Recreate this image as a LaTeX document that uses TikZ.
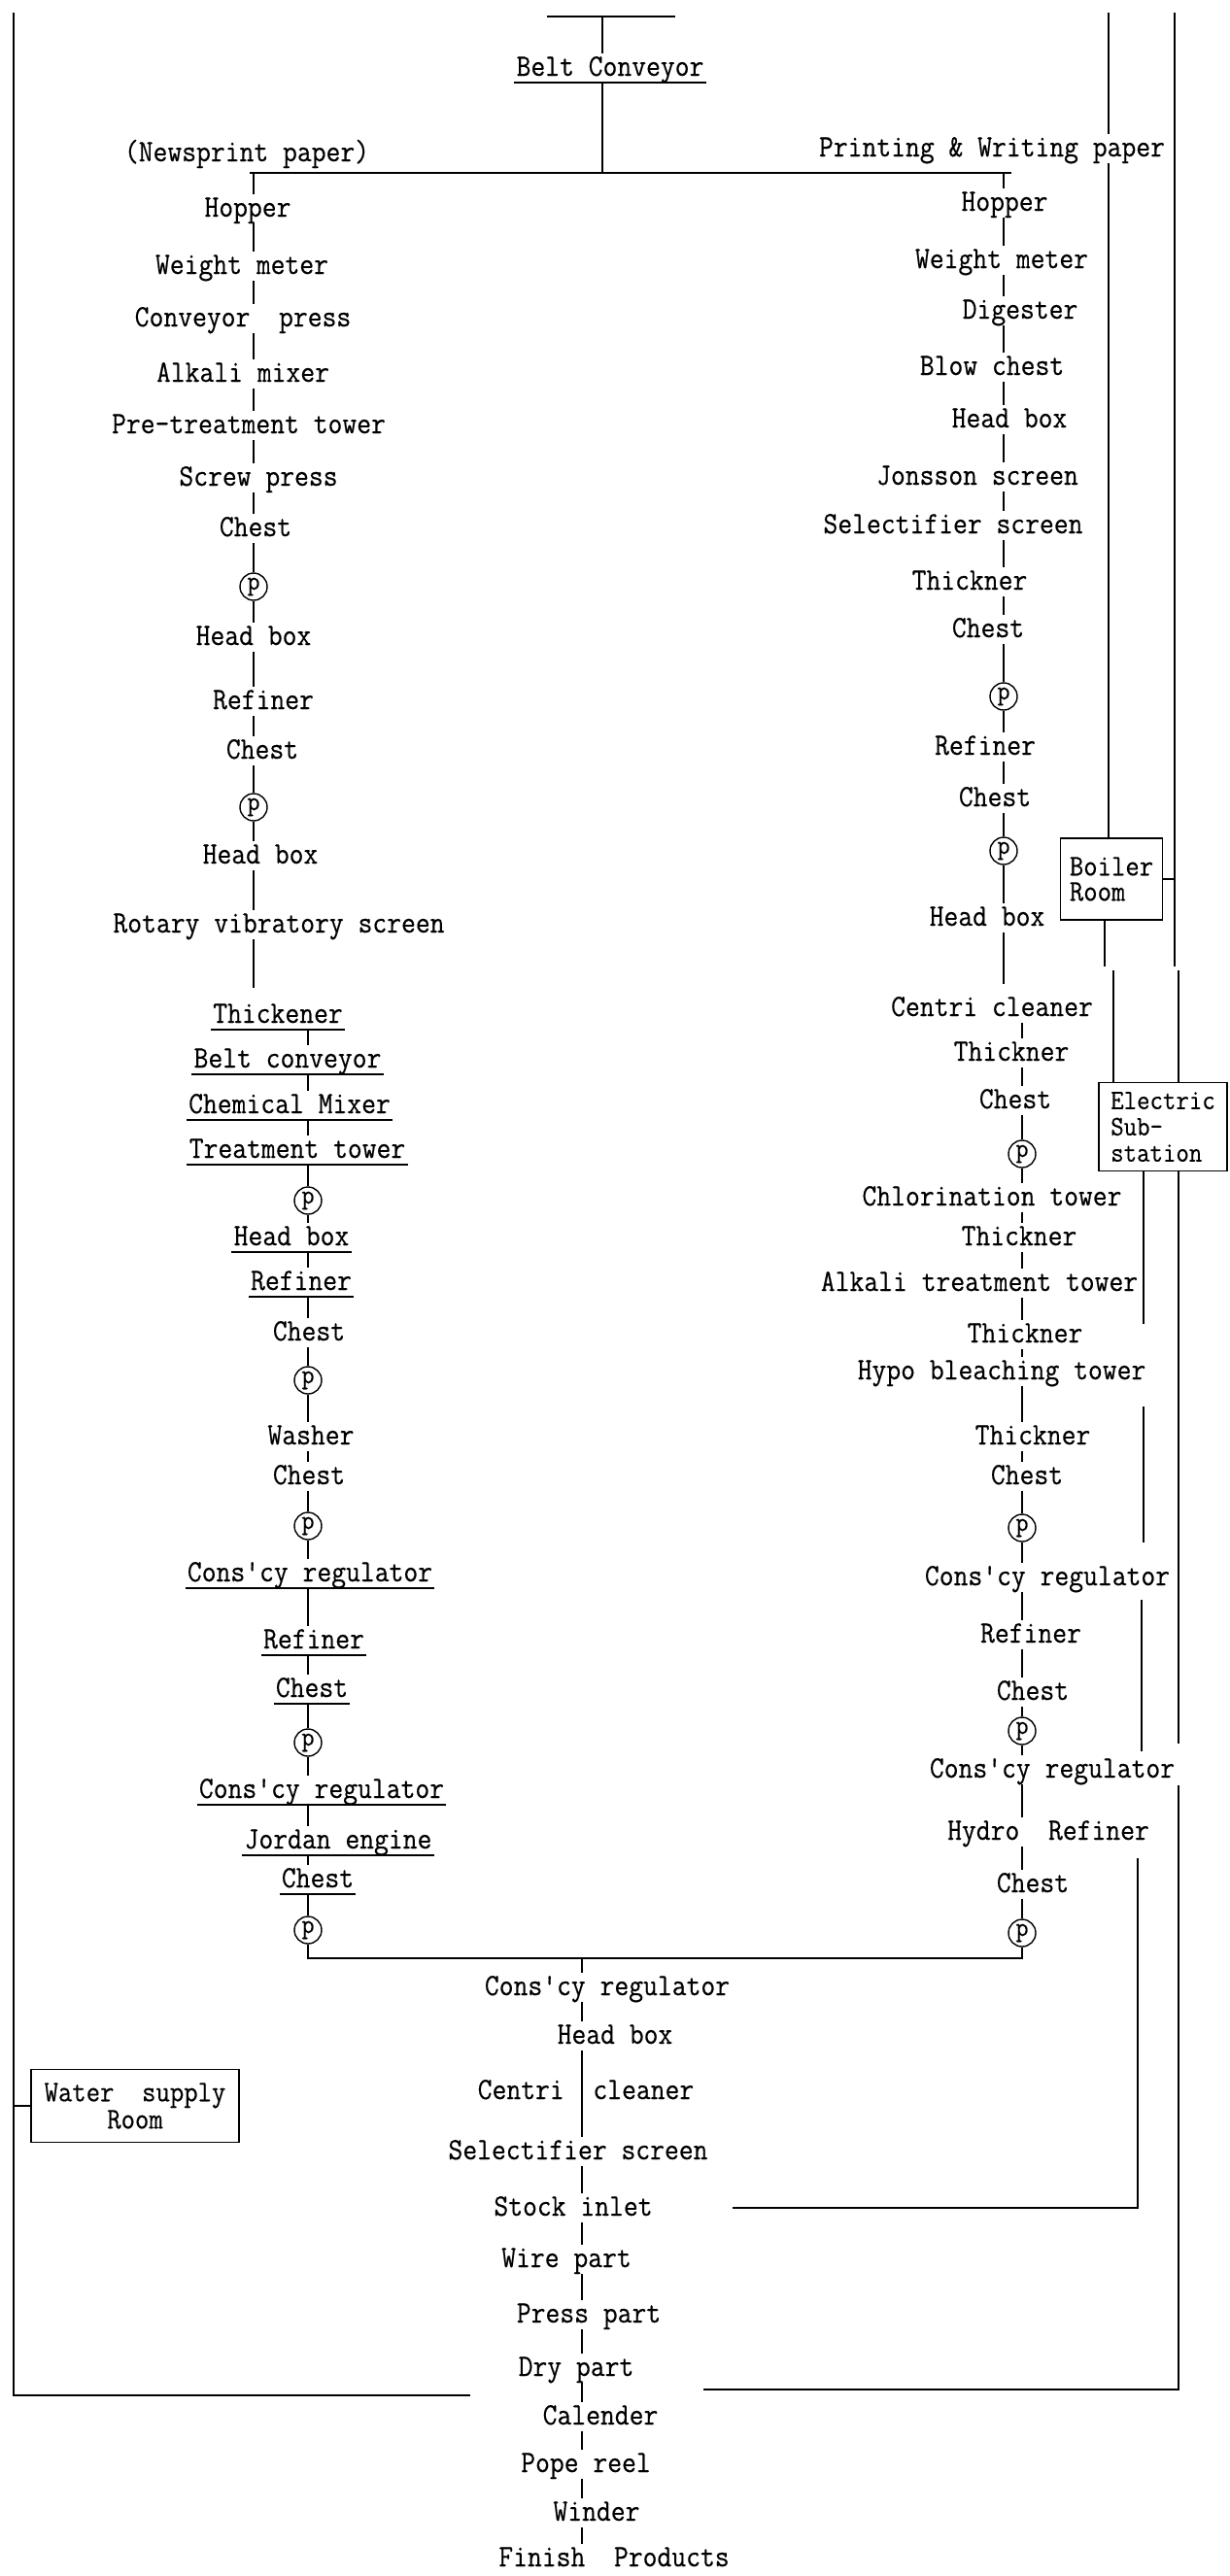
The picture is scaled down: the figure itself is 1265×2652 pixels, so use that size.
\documentclass[tikz,border=0pt]{standalone}
\usepackage{fontspec}
\newfontfamily\tw{Latin Modern Mono}[FakeStretch=0.9, FakeBold=0.4]
\begin{document}
\begin{tikzpicture}[x=0.5pt,y=-0.5pt,
  lbl/.style={font=\tw\fontsize{16}{18}\selectfont, inner xsep=1pt, inner ysep=0.3pt, text height=11pt, text depth=3pt},
  pump/.style={circle, draw, line width=0.7pt, inner sep=0pt, minimum size=14pt, font=\tw\fontsize{14}{14}\selectfont},
  conn/.style={line width=0.75pt},
  bar/.style={line width=1.1pt},
  uline/.style={line width=1pt},
  room/.style={draw, line width=0.8pt, font=\tw\fontsize{15.5}{13}\selectfont, inner sep=2pt},
  svc/.style={line width=0.8pt}
]
\useasboundingbox (0,0) rectangle (1265,2652);

% ---------- top ----------
\coordinate (tbL) at (563,17); \coordinate (tbR) at (695,17); \coordinate (tbM) at (620,17);
\node[lbl] (bc) at (628,70) {Belt Conveyor};
\coordinate (spL) at (257,178); \coordinate (spR) at (1041,178); \coordinate (spM) at (620,178);
\coordinate (L1) at (261,178); \coordinate (R1) at (1033,178);
\coordinate (L2) at (317,0); \coordinate (R2) at (1052,0); \coordinate (C) at (599,0);
\draw[bar] (tbL) -- (tbR);
\draw[conn] (tbM) -- (bc.north -| tbM);
\draw[conn] (bc.south -| tbM) -- (spM);
\draw[bar] (spL) -- (spR);
\node[lbl] (news) at (254,158) {(Newsprint paper)};
\node[lbl] (pw) at (1021,153) {Printing \& Writing paper};

% ---------- left column, upper ----------
\node[lbl] (n1) at (255,215) {Hopper};
\node[lbl] (n2) at (249,274) {Weight meter};
\node[lbl] (n3) at (250,328) {Conveyor\ \ press};
\node[lbl] (n4) at (250,385) {Alkali mixer};
\node[lbl] (n5) at (256,438) {Pre-treatment tower};
\node[lbl] (n6) at (266,492) {Screw press};
\node[lbl] (n7) at (263,544) {Chest};
\node[pump] (n8) at (261,604) {p};
\node[lbl] (n9) at (261,656) {Head box};
\node[lbl] (n10) at (271,722) {Refiner};
\node[lbl] (n11) at (270,773) {Chest};
\node[pump] (n12) at (261,831) {p};
\node[lbl] (n13) at (268,881) {Head box};
\node[lbl] (n14) at (287,952) {Rotary vibratory screen};
\coordinate (L1t) at (261,1017);
\draw[conn] (L1) -- (n1.north -| L1);
\foreach \a/\b in {n1/n2,n2/n3,n3/n4,n4/n5,n5/n6,n6/n7,n7/n8,n8/n9,n9/n10,n10/n11,n11/n12,n12/n13,n13/n14}
  \draw[conn] (\a.south -| L1) -- (\b.north -| L1);
\draw[conn] (n14.south -| L1) -- (L1t);

% ---------- left column, lower ----------
\node[lbl] (n15) at (286,1045) {Thickener};
\node[lbl] (n16) at (296,1091) {Belt conveyor};
\node[lbl] (n17) at (298,1138) {Chemical Mixer};
\node[lbl] (n18) at (306,1184) {Treatment tower};
\node[pump] (n19) at (317,1236) {p};
\node[lbl] (n20) at (300,1274) {Head box};
\node[lbl] (n21) at (310,1320) {Refiner};
\node[lbl] (n22) at (318,1372) {Chest};
\node[pump] (n23) at (317,1421) {p};
\node[lbl] (n24) at (320,1479) {Washer};
\node[lbl] (n25) at (318,1520) {Chest};
\node[pump] (n26) at (317,1571) {p};
\node[lbl] (n27) at (319,1620) {Cons'cy regulator};
\node[lbl] (n28) at (323,1689) {Refiner};
\node[lbl] (n29) at (321,1739) {Chest};
\node[pump] (n30) at (317,1794) {p};
\node[lbl] (n31) at (331,1843) {Cons'cy regulator};
\node[lbl] (n32) at (348,1895) {Jordan engine};
\node[lbl] (n33) at (327,1935) {Chest};
\node[pump] (n34) at (317,1987) {p};
\foreach \a/\b in {n15/n16,n16/n17,n17/n18,n18/n19,n19/n20,n20/n21,n21/n22,n22/n23,n23/n24,n24/n25,n25/n26,n26/n27,n27/n28,n28/n29,n29/n30,n30/n31,n31/n32,n32/n33,n33/n34}
  \draw[conn] (\a.south -| L2) -- (\b.north -| L2);
\foreach \n in {n15,n16,n17,n18,n20,n21,n27,n28,n29,n31,n32,n33}
  \draw[uline] (\n.south west) -- (\n.south east);
\draw[uline] (bc.south west) -- (bc.south east);

% ---------- right column, upper ----------
\node[lbl] (r1) at (1034,209) {Hopper};
\node[lbl] (r2) at (1031,268) {Weight meter};
\node[lbl] (r3) at (1050,320) {Digester};
\node[lbl] (r4) at (1021,378) {Blow chest};
\node[lbl] (r5) at (1039,432) {Head box};
\node[lbl] (r6) at (1006,491) {Jonsson screen};
\node[lbl] (r7) at (981,541) {Selectifier screen};
\node[lbl] (r8) at (998,599) {Thickner};
\node[lbl] (r9) at (1017,648) {Chest};
\node[pump] (r10) at (1033,717) {p};
\node[lbl] (r11) at (1014,769) {Refiner};
\node[lbl] (r12) at (1024,822) {Chest};
\node[pump] (r13) at (1033,876) {p};
\node[lbl] (r14) at (1016,945) {Head box};
\coordinate (R1t) at (1033,1013);
\draw[conn] (R1) -- (r1.north -| R1);
\foreach \a/\b in {r1/r2,r2/r3,r3/r4,r4/r5,r5/r6,r6/r7,r7/r8,r8/r9,r9/r10,r10/r11,r11/r12,r12/r13,r13/r14}
  \draw[conn] (\a.south -| R1) -- (\b.north -| R1);
\draw[conn] (r14.south -| R1) -- (R1t);

% ---------- right column, lower ----------
\node[lbl] (r15) at (1021,1038) {Centri cleaner};
\node[lbl] (r16) at (1041,1084) {Thickner};
\node[lbl] (r17) at (1045,1133) {Chest};
\node[pump] (r18) at (1052,1188) {p};
\node[lbl] (r19) at (1021,1233) {Chlorination tower};
\node[lbl] (r20) at (1049,1274) {Thickner};
\node[lbl] (r21) at (1008,1321) {Alkali treatment tower};
\node[lbl] (r22) at (1055,1374) {Thickner};
\node[lbl] (r23) at (1031,1412) {Hypo bleaching tower};
\node[lbl] (r24) at (1063,1479) {Thickner};
\node[lbl] (r25) at (1057,1520) {Chest};
\node[pump] (r26) at (1052,1573) {p};
\node[lbl] (r27) at (1078,1624) {Cons'cy regulator};
\node[lbl] (r28) at (1061,1683) {Refiner};
\node[lbl] (r29) at (1063,1742) {Chest};
\node[pump] (r30) at (1052,1782) {p};
\node[lbl] (r31) at (1083,1822) {Cons'cy regulator};
\node[lbl] (r32) at (1079,1886) {Hydro\ \ Refiner};
\node[lbl] (r33) at (1063,1940) {Chest};
\node[pump] (r34) at (1052,1990) {p};
\foreach \a/\b in {r15/r16,r16/r17,r17/r18,r18/r19,r19/r20,r20/r21,r21/r22,r22/r23,r23/r24,r24/r25,r25/r26,r26/r27,r27/r28,r28/r29,r29/r30,r30/r31,r31/r32,r32/r33,r33/r34}
  \draw[conn] (\a.south -| R2) -- (\b.north -| R2);

% ---------- junction and centre column ----------
\coordinate (JL) at (317,2016); \coordinate (JR) at (1052,2016); \coordinate (JC) at (599,2016);
\draw[bar] (n34.south) -- (JL) -- (JR) -- (r34.south);
\node[lbl] (c1) at (625,2046) {Cons'cy regulator};
\node[lbl] (c2) at (633,2096) {Head box};
\node[lbl] (c3) at (603,2153) {Centri\ \ cleaner};
\node[lbl] (c4) at (595,2215) {Selectifier screen};
\node[lbl] (c5) at (590,2273) {Stock inlet};
\node[lbl] (c6) at (583,2326) {Wire part};
\node[lbl] (c7) at (606,2383) {Press part};
\node[lbl] (c8) at (593,2438) {Dry part};
\node[lbl] (c9) at (618,2488) {Calender};
\node[lbl] (c10) at (603,2537) {Pope reel};
\node[lbl] (c11) at (614,2587) {Winder};
\node[lbl] (c12) at (632,2634) {Finish\ \ Products};
\draw[conn] (JC) -- (c1.north -| C);
\foreach \a/\b in {c1/c2,c2/c4,c4/c5,c5/c6,c6/c7,c7/c8,c8/c9,c9/c10,c10/c11,c11/c12}
  \draw[conn] (\a.south -| C) -- (\b.north -| C);

% ---------- service rooms ----------
\node[room, minimum width=107pt, minimum height=37.5pt, align=center] (water) at (139,2168) {Water\ \ supply\\Room};
\node[room, minimum width=52.5pt, minimum height=42pt, align=left] (boiler) at (1144,905) {Boiler\\Room};
\node[room, minimum width=66pt, minimum height=45.5pt, align=left, font=\tw\fontsize{14.5}{13.5}\selectfont, inner sep=1pt] (elec) at (1197,1160) {Electric\\Sub-\\station};

% left service line
\coordinate (Lt) at (14,13); \coordinate (Lb) at (14,2466); \coordinate (Le) at (484,2466);
\draw[svc] (Lt) -- (Lb) -- (Le);
\draw[svc] (water.west) -- (water.west -| Lt);

% right service lines
\coordinate (A0) at (1141,13); \coordinate (A1) at (1137,995);
\coordinate (B0) at (1209,13); \coordinate (B1) at (1209,995);
\coordinate (C0) at (1146,999); \coordinate (D0) at (1213,999);
\coordinate (E0) at (1177,1363);
\coordinate (G0) at (1177,1448); \coordinate (G1) at (1177,1588);
\coordinate (H0) at (1175,1647); \coordinate (H1) at (1175,1803);
\coordinate (I0) at (1171,1913); \coordinate (I1) at (1171,2273); \coordinate (I2) at (754,2273);
\coordinate (F1) at (1213,1795); \coordinate (F2) at (1213,1838);
\coordinate (F3) at (1213,2460); \coordinate (F4) at (724,2460);
\draw[svc] (A0) -- (pw.north -| A0);
\draw[svc] (pw.south -| A0) -- (boiler.north -| A0);
\draw[svc] (boiler.south -| A1) -- (A1);
\draw[svc] (B0) -- (B1);
\draw[svc] (boiler.east) -- (boiler.east -| B0);
\draw[svc] (C0) -- (elec.north -| C0);
\draw[svc] (D0) -- (elec.north -| D0);
\draw[svc] (elec.south -| E0) -- (E0);
\draw[svc] (G0) -- (G1);
\draw[svc] (H0) -- (H1);
\draw[svc] (I0) -- (I1) -- (I2);
\draw[svc] (elec.south -| F1) -- (F1);
\draw[svc] (F2) -- (F3) -- (F4);
\end{tikzpicture}
\end{document}
